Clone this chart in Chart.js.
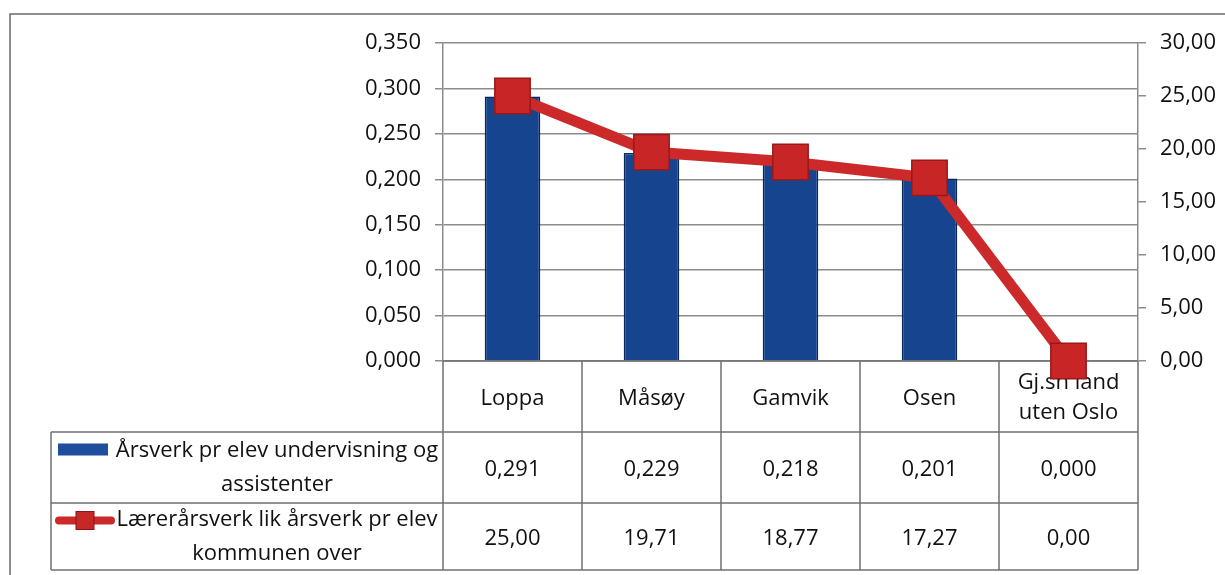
<!DOCTYPE html>
<html>
<head>
<meta charset="utf-8">
<script src="https://cdn.jsdelivr.net/npm/chart.js@4"></script>
<style>
  html, body { margin: 0; padding: 0; background: #fff; }
  #wrap { width: 1225px; height: 575px; }
</style>
</head>
<body>
<div id="wrap"><canvas id="combo" width="1225" height="575"></canvas></div>
<script>
// --- data ---
const categories = ['Loppa', 'Måsøy', 'Gamvik', 'Osen', ['Gj.sn land', 'uten Oslo']];
const barValues = [0.291, 0.229, 0.218, 0.201, 0.000];
const lineValues = [25.00, 19.71, 18.77, 17.27, 0.00];
const barLabel = ['Årsverk pr elev undervisning og', 'assistenter'];
const lineLabel = ['Lærerårsverk lik årsverk pr elev', 'kommunen over'];

const FONT = "'Open Sans', sans-serif";
const FSIZE = 22;
const GRID = '#8c8c8c';
const TABLE_LINE = '#707070';

const fmt3 = v => v.toFixed(3).replace('.', ',');
const fmt2 = v => v.toFixed(2).replace('.', ',');

// Data table under the plot, aligned to the x scale
const dataTable = {
    id: 'dataTable',
    beforeDraw(chart) {
        const c = chart.ctx;
        // outer frame
        c.save();
        c.strokeStyle = '#6a6a6a';
        c.lineWidth = 1.5;
        c.strokeRect(10, 14, 1240, 570);
        c.restore();
    },
    beforeDatasetsDraw(chart) {
        const c = chart.ctx;
        const x = chart.scales.x;
        const area = chart.chartArea;
        const step = x.getPixelForValue(1) - x.getPixelForValue(0);
        const left = area.left, right = area.right;
        const rows = [area.bottom, area.bottom + 71, area.bottom + 142, area.bottom + 209];
        const legendLeft = 51;

        c.save();
        c.strokeStyle = TABLE_LINE;
        c.lineWidth = 1.5;
        // horizontal lines
        c.beginPath();
        c.moveTo(left, rows[0]); c.lineTo(right, rows[0]);
        for (let r = 1; r < rows.length; r++) {
            c.moveTo(legendLeft, rows[r]); c.lineTo(right, rows[r]);
        }
        // vertical lines
        c.moveTo(legendLeft, rows[1]); c.lineTo(legendLeft, rows[3]);
        for (let i = 0; i <= categories.length; i++) {
            const px = left + i * step;
            c.moveTo(px, rows[0]); c.lineTo(px, rows[3]);
        }
        c.stroke();

        c.fillStyle = '#111';
        c.font = FSIZE + 'px ' + FONT;
        c.textAlign = 'center';
        c.textBaseline = 'middle';
        categories.forEach((cat, i) => {
            const cx = x.getPixelForValue(i);
            const midC = (rows[0] + rows[1]) / 2;
            if (Array.isArray(cat)) {
                c.fillText(cat[0], cx, midC - 14);
                c.fillText(cat[1], cx, midC + 16);
            } else {
                c.fillText(cat, cx, midC + 2);
            }
            c.fillText(fmt3(barValues[i]), cx, (rows[1] + rows[2]) / 2 + 2);
            c.fillText(fmt2(lineValues[i]), cx, (rows[2] + rows[3]) / 2 + 2);
        });

        // legend keys + series names
        const textCx = 277;
        const m1 = (rows[1] + rows[2]) / 2, m2 = (rows[2] + rows[3]) / 2;
        c.fillText(barLabel[0], textCx, m1 - 17);
        c.fillText(barLabel[1], textCx, m1 + 17);
        c.fillText(lineLabel[0], textCx, m2 - 17);
        c.fillText(lineLabel[1], textCx, m2 + 17);

        c.fillStyle = '#1f4e9c';
        c.fillRect(58, m1 - 24, 50, 12);

        c.strokeStyle = '#cc2a2a';
        c.lineWidth = 8;
        c.lineCap = 'round';
        c.beginPath();
        c.moveTo(59, m2 - 16); c.lineTo(111, m2 - 16);
        c.stroke();
        c.fillStyle = '#c62828';
        c.strokeStyle = '#8e1414';
        c.lineWidth = 1;
        c.fillRect(76, m2 - 25, 18, 18);
        c.strokeRect(76, m2 - 25, 18, 18);
        c.restore();
    }
};

new Chart(document.getElementById('combo'), {
    data: {
        labels: categories,
        datasets: [
            {
                type: 'line',
                label: lineLabel.join(' '),
                data: lineValues,
                yAxisID: 'y2',
                borderColor: '#cc2a2a',
                borderWidth: 11,
                pointStyle: 'rect',
                pointRadius: 25,
                pointBackgroundColor: '#c82626',
                pointBorderColor: '#9a1818',
                pointBorderWidth: 1.5,
                tension: 0,
                clip: false,
                order: 0
            },
            {
                type: 'bar',
                label: barLabel.join(' '),
                data: barValues,
                yAxisID: 'y',
                backgroundColor: '#17448f',
                borderColor: '#0b2657',
                borderWidth: 1.5,
                categoryPercentage: 1,
                barPercentage: 0.4,
                order: 1
            }
        ]
    },
    options: {
        responsive: false,
        animation: false,
        layout: { padding: { left: 343, right: 0, top: 43, bottom: 214 } },
        plugins: { legend: { display: false }, tooltip: { enabled: false } },
        scales: {
            x: { display: false, offset: true },
            y: {
                position: 'left',
                min: 0, max: 0.35,
                afterFit: s => { s.width = 100; },
                ticks: { stepSize: 0.05, callback: v => fmt3(v), color: '#111', font: { family: FONT, size: FSIZE }, padding: 14 },
                grid: { color: GRID, lineWidth: 1.5, tickLength: 8 },
                border: { color: GRID, width: 1.5 }
            },
            y2: {
                position: 'right',
                min: 0, max: 30,
                afterFit: s => { s.width = 87; },
                ticks: { stepSize: 5, callback: v => fmt2(v), color: '#111', font: { family: FONT, size: FSIZE }, padding: 14 },
                grid: { drawOnChartArea: false, color: GRID, lineWidth: 1.5, tickLength: 8 },
                border: { color: GRID, width: 1.5 }
            }
        }
    },
    plugins: [dataTable]
});
</script>
</body>
</html>
